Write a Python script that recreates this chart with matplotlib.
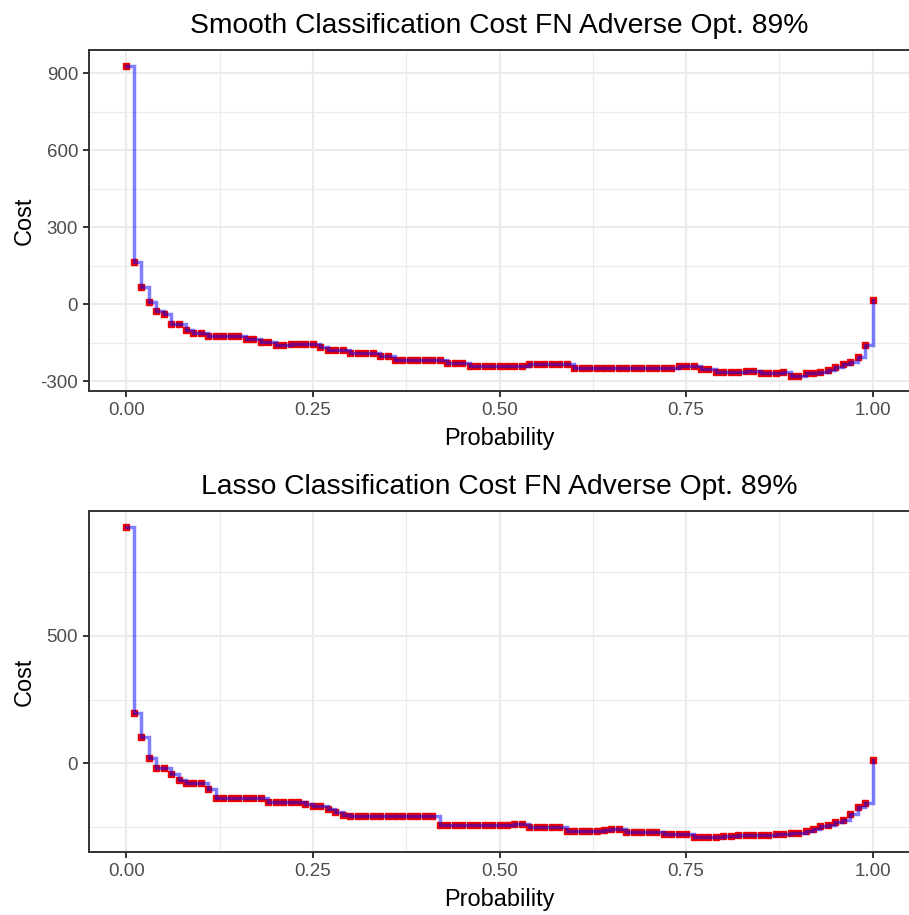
import numpy as np
import matplotlib
matplotlib.use("Agg")
import matplotlib.pyplot as plt
from matplotlib.ticker import FixedLocator

plt.rcParams['font.family'] = ['Liberation Sans', 'DejaVu Sans']
plt.rcParams['axes.unicode_minus'] = False

prob = np.round(np.arange(0, 101) / 100.0, 2)

smooth_cost = [
    930, 165, 67, 9, -27, -40, -76, -76, -99, -111,
    -111, -124, -124, -124, -124, -124, -135, -135, -148, -148,
    -159, -159, -154, -154, -154, -154, -167, -180, -180, -180,
    -192, -192, -192, -192, -203, -203, -216, -216, -216, -216,
    -216, -216, -216, -228, -228, -228, -240, -240, -240, -240,
    -240, -240, -240, -240, -233, -233, -233, -233, -233, -233,
    -248, -248, -248, -248, -248, -248, -248, -248, -248, -248,
    -248, -248, -248, -248, -240, -240, -240, -253, -253, -265,
    -265, -265, -265, -262, -259, -270, -270, -270, -265, -278,
    -278, -267, -267, -263, -256, -246, -235, -226, -206, -160,
    15,
]

lasso_cost = [
    928, 198, 104, 20, -17, -17, -40, -63, -77, -77,
    -77, -99, -137, -137, -137, -137, -137, -137, -137, -150,
    -150, -150, -150, -150, -159, -168, -168, -180, -192, -203,
    -204, -204, -204, -204, -204, -204, -204, -204, -204, -204,
    -204, -204, -241, -241, -241, -241, -241, -241, -241, -241,
    -241, -241, -237, -237, -250, -250, -250, -250, -250, -263,
    -263, -263, -263, -263, -262, -257, -257, -268, -268, -268,
    -268, -268, -276, -276, -276, -276, -286, -286, -286, -286,
    -284, -283, -281, -281, -281, -281, -279, -276, -275, -272,
    -271, -264, -258, -246, -240, -230, -221, -198, -171, -156,
    14,
]

titles = ["Smooth Classification Cost FN Adverse Opt. 89%",
          "Lasso Classification Cost FN Adverse Opt. 89%"]
x_ticks = [0.0, 0.25, 0.5, 0.75, 1.0]
x_ticklabels = ["0.00", "0.25", "0.50", "0.75", "1.00"]
y_major = [[-300, 0, 300, 600, 900], [0, 500]]
y_minor = [[-150, 150, 450, 750], [-250, 250, 750]]

W, H = 909, 915
fig = plt.figure(figsize=(W / 100, H / 100), dpi=100)

left = 89 / W
width = (910 - 89) / W
panels = [(50, 391), (511, 852)]

for i, (ytop, ybot) in enumerate(panels):
    ax = fig.add_axes([left, 1 - ybot / H, width, (ybot - ytop) / H])
    y = np.array([smooth_cost, lasso_cost][i], dtype=float)
    ax.plot(prob, y, 's', color='#EE0000', ms=4.4, mec='#EE0000', zorder=3)
    ax.plot(prob, y, drawstyle='steps-post', color='#0000FF', alpha=0.5,
            lw=2.5, zorder=4, solid_joinstyle='miter')
    ymin, ymax = y.min(), y.max()
    rng = ymax - ymin
    ax.set_xlim(-0.05, 1.05)
    ax.set_ylim(ymin - 0.05 * rng, ymax + 0.05 * rng)
    ax.xaxis.set_major_locator(FixedLocator(x_ticks))
    ax.set_xticklabels(x_ticklabels)
    ax.xaxis.set_minor_locator(FixedLocator([0.125, 0.375, 0.625, 0.875]))
    ax.yaxis.set_major_locator(FixedLocator(y_major[i]))
    ax.yaxis.set_minor_locator(FixedLocator(y_minor[i]))
    ax.grid(which='major', color='#EBEBEB', lw=1.5, zorder=0)
    ax.grid(which='minor', color='#EBEBEB', lw=0.8, zorder=0)
    ax.set_axisbelow(True)
    ax.tick_params(which='major', length=4.3, width=1.4, color='#333333',
                   labelsize=13.5, labelcolor='#4D4D4D', pad=3.5)
    ax.tick_params(which='minor', length=0)
    for sp in ax.spines.values():
        sp.set_color('#333333')
        sp.set_linewidth(1.4)
    ax.set_title(titles[i], fontsize=20.3, pad=12.3, color='black')
    ax.set_xlabel("Probability", fontsize=16.9, labelpad=5.8)
    ax.set_ylabel("Cost", fontsize=16.9)
    ax.yaxis.set_label_coords((36 - 89) / (910 - 89), 0.5)

fig.savefig("out.png", dpi=100)
